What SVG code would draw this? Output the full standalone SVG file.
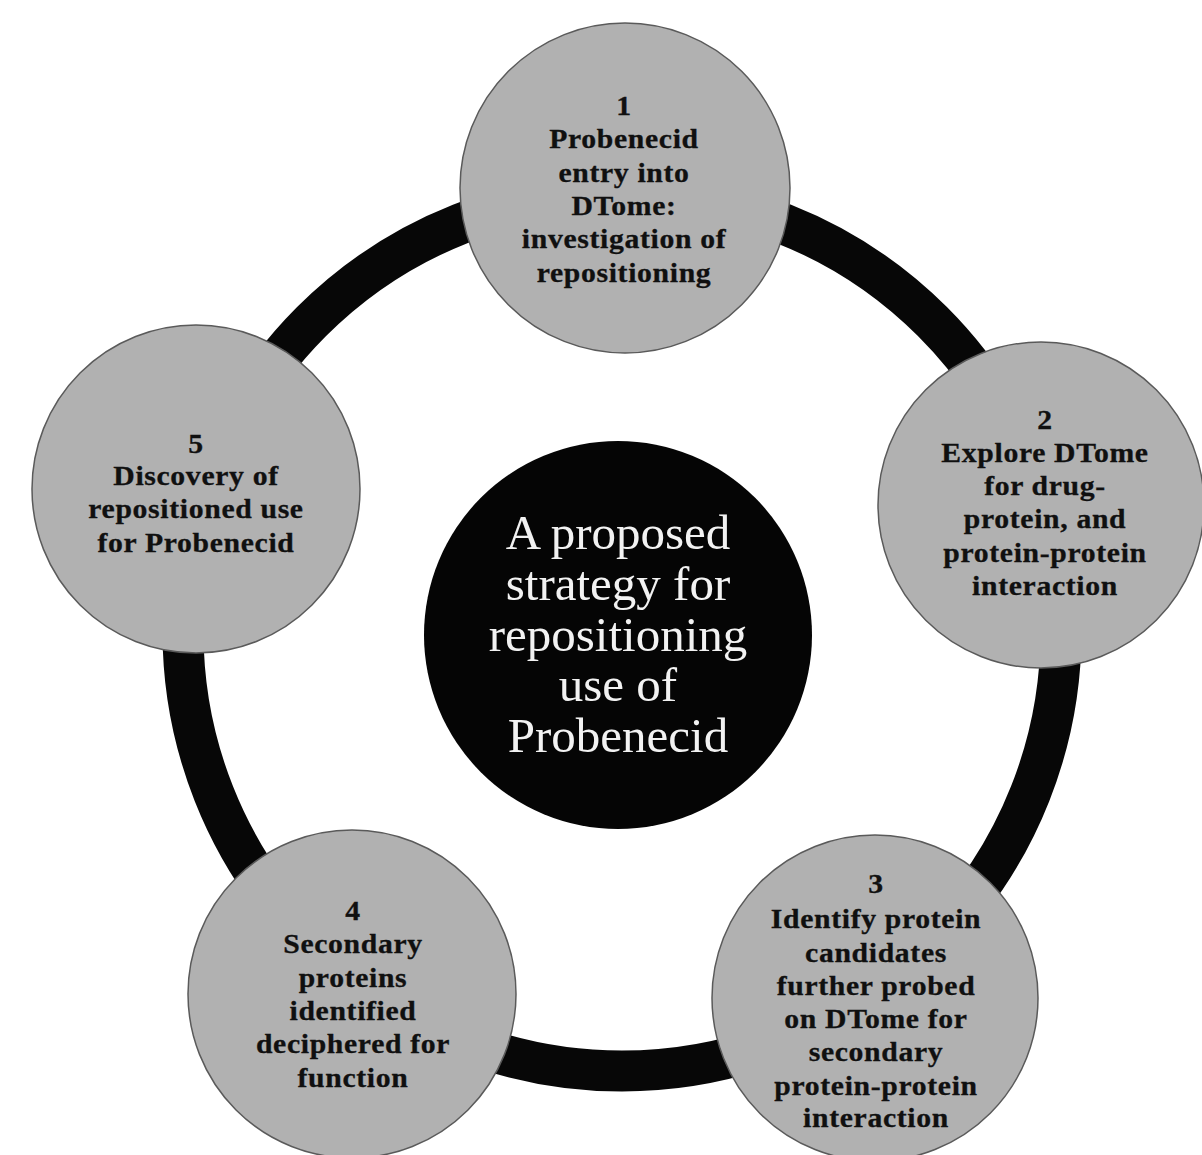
<svg xmlns="http://www.w3.org/2000/svg" width="1202" height="1155" viewBox="0 0 1202 1155">
<style>
.node{fill:#b1b1b1;stroke:#5a5a5a;stroke-width:1.5}
.lbl{font-family:"Liberation Serif","Times New Roman",serif;font-weight:bold;font-size:27px;letter-spacing:0.6px;fill:#101010;text-anchor:middle;stroke:#101010;stroke-width:0.3}
.hub{fill:#050505}
.hubtxt{font-family:"Liberation Serif","Times New Roman",serif;font-size:49px;fill:#f2f2f2;text-anchor:middle}
.ring{fill:none;stroke:#070707;stroke-width:41}
</style>
<rect width="1202" height="1155" fill="#ffffff"/>
<g id="connectors">
<circle class="ring" cx="622" cy="632" r="439"/>
</g>
<g id="center">
<circle class="hub" cx="618" cy="635" r="194"/>
<text class="hubtxt"><tspan x="618" y="549">A proposed</tspan><tspan x="618" y="600">strategy for</tspan><tspan x="618" y="651">repositioning</tspan><tspan x="618" y="701">use of</tspan><tspan x="618" y="752">Probenecid</tspan></text>
</g>
<g id="node1">
<circle class="node" cx="625" cy="188" r="165"/>
<text class="lbl" transform="translate(624 0) scale(1.1 1)"><tspan x="0" y="115">1</tspan><tspan x="0" y="148">Probenecid</tspan><tspan x="0" y="182">entry into</tspan><tspan x="0" y="215">DTome:</tspan><tspan x="0" y="248">investigation of</tspan><tspan x="0" y="282">repositioning</tspan></text>
</g>
<g id="node2">
<circle class="node" cx="1041" cy="505" r="163"/>
<text class="lbl" transform="translate(1045 0) scale(1.1 1)"><tspan x="0" y="429">2</tspan><tspan x="0" y="462">Explore DTome</tspan><tspan x="0" y="495">for drug-</tspan><tspan x="0" y="528">protein, and</tspan><tspan x="0" y="562">protein-protein</tspan><tspan x="0" y="595">interaction</tspan></text>
</g>
<g id="node3">
<circle class="node" cx="875" cy="998" r="163"/>
<text class="lbl" transform="translate(876 0) scale(1.1 1)"><tspan x="0" y="893">3</tspan><tspan x="0" y="928">Identify protein</tspan><tspan x="0" y="962">candidates</tspan><tspan x="0" y="995">further probed</tspan><tspan x="0" y="1028">on DTome for</tspan><tspan x="0" y="1061">secondary</tspan><tspan x="0" y="1095">protein-protein</tspan><tspan x="0" y="1127">interaction</tspan></text>
</g>
<g id="node4">
<circle class="node" cx="352" cy="994" r="164"/>
<text class="lbl" transform="translate(353 0) scale(1.1 1)"><tspan x="0" y="920">4</tspan><tspan x="0" y="953">Secondary</tspan><tspan x="0" y="987">proteins</tspan><tspan x="0" y="1020">identified</tspan><tspan x="0" y="1053">deciphered for</tspan><tspan x="0" y="1087">function</tspan></text>
</g>
<g id="node5">
<circle class="node" cx="196" cy="489" r="164"/>
<text class="lbl" transform="translate(196 0) scale(1.1 1)"><tspan x="0" y="453">5</tspan><tspan x="0" y="485">Discovery of</tspan><tspan x="0" y="518">repositioned use</tspan><tspan x="0" y="552">for Probenecid</tspan></text>
</g>
</svg>
